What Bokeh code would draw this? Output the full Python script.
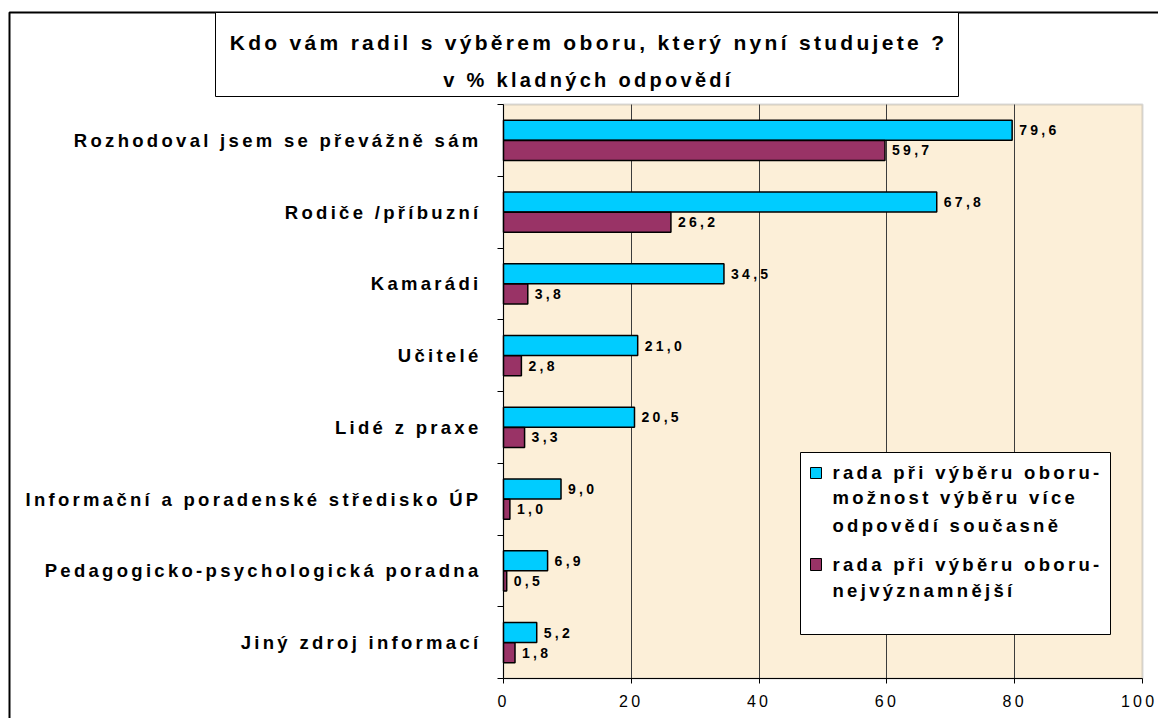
from bokeh.plotting import figure
from bokeh.models import (FixedTicker, BoxAnnotation, Label, LabelSet,
                          ColumnDataSource, Range1d, LinearAxis, Grid)
from bokeh.core.properties import value
from bokeh.embed import file_html
from bokeh.resources import INLINE

# ---------------- data ----------------
categories = [
    "Rozhodoval jsem se převážně sám",
    "Rodiče /příbuzní",
    "Kamarádi",
    "Učitelé",
    "Lidé z praxe",
    "Informační a poradenské středisko ÚP",
    "Pedagogicko-psychologická poradna",
    "Jiný zdroj informací",
]
series_multi = [79.6, 67.8, 34.5, 21.0, 20.5, 9.0, 6.9, 5.2]
series_top = [59.7, 26.2, 3.8, 2.8, 3.3, 1.0, 0.5, 1.8]
x_ticks = [0, 20, 40, 60, 80, 100]
title_line1 = "Kdo vám radil s výběrem oboru, který nyní studujete ?"
title_line2 = "v % kladných odpovědí"
legend_multi = ["rada při výběru oboru-", "možnost výběru více", "odpovědí současně"]
legend_top = ["rada při výběru oboru-", "nejvýznamnější"]

# ---------------- layout / style ----------------
W, H = 1158, 718
PL, PR, PT, PB = 503, 1142, 104, 678      # plot-area pixel box
LS = 3.3                                   # letter spacing (px)
FONT = "Liberation Sans"
BLUE = "#00CCFF"
PURPLE = "#993366"
n = len(categories)
off = 0.14
bar_h = 0.279

xmax = x_ticks[-1]
xpx = (PR - PL) / xmax
ypx = (PB - PT) / n
x_range = Range1d(-PL / xpx, (W - PL) / xpx)
y_range = Range1d((H - PT) / ypx, -PT / ypx)   # flipped: first category on top


def fmt(v):
    return f"{v:.1f}".replace(".", ",")


centers = [i + 0.5 for i in range(n)]
src_a = ColumnDataSource(dict(y=[c - off for c in centers], v=series_multi,
                              t=[fmt(v) for v in series_multi]))
src_b = ColumnDataSource(dict(y=[c + off for c in centers], v=series_top,
                              t=[fmt(v) for v in series_top]))

p = figure(width=W, height=H, x_range=x_range, y_range=y_range,
           x_axis_location=None, y_axis_location=None, title=None,
           min_border=0, output_backend="svg", toolbar_location=None)
p.styles = {"letter-spacing": f"{LS}px"}
p.background_fill_color = "white"
p.border_fill_color = "white"
p.outline_line_color = None
p.xgrid.visible = False
p.ygrid.visible = False

# plot area background + grey border
p.add_layout(BoxAnnotation(left=0, right=xmax, top=0, bottom=n,
                           fill_color="#FCEFD8", fill_alpha=1.0,
                           line_color="#808080", line_width=2, level="image"))

# vertical grid lines, limited to the plot area
grid = Grid(dimension=0, ticker=FixedTicker(ticks=x_ticks[1:-1]),
            grid_line_color="#3c3c3c", grid_line_width=1)
if "cross_bounds" in Grid.properties():
    grid.cross_bounds = (0, n)
    p.add_layout(grid)
else:
    p.segment(x0=x_ticks[1:-1], x1=x_ticks[1:-1], y0=0, y1=n,
              line_color="#3c3c3c", line_width=1, level="underlay")

# bars
p.hbar(y="y", left=0, right="v", height=bar_h, source=src_a,
       fill_color=BLUE, line_color="black", line_width=1.5)
p.hbar(y="y", left=0, right="v", height=bar_h, source=src_b,
       fill_color=PURPLE, line_color="black", line_width=1.5)

# value labels
for src in (src_a, src_b):
    p.text(x="v", y="y", text="t", source=src, x_offset=7,
           text_font=value(FONT), text_font_style="bold",
           text_font_size="14px", text_baseline="middle",
           text_align="left", text_color="black")

# x axis at bottom of plot area (tick marks only; labels drawn below)
xaxis = LinearAxis(fixed_location=n,
                   ticker=FixedTicker(ticks=[], minor_ticks=x_ticks),
                   bounds=(0, xmax))
xaxis.axis_line_color = "black"
xaxis.axis_line_width = 1
xaxis.major_tick_out = 0
xaxis.major_tick_in = 0
xaxis.minor_tick_out = 5
xaxis.minor_tick_in = 0
xaxis.minor_tick_line_color = "black"
p.add_layout(xaxis, "below")

# y axis at x=0, tick marks between categories
yaxis = LinearAxis(fixed_location=0,
                   ticker=FixedTicker(ticks=[], minor_ticks=list(range(n + 1))),
                   bounds=(0, n))
yaxis.axis_line_color = "black"
yaxis.axis_line_width = 1
yaxis.major_tick_out = 0
yaxis.major_tick_in = 0
yaxis.minor_tick_out = 6
yaxis.minor_tick_in = 0
yaxis.minor_tick_line_color = "black"
p.add_layout(yaxis, "left")

# category labels (right aligned next to the y axis)
cat_src = ColumnDataSource(dict(x=[0] * n, y=centers, text=categories,
                                xo=[-(22 + len(c) * LS) for c in categories]))
p.add_layout(LabelSet(x="x", y="y", text="text", x_offset="xo", source=cat_src,
                      text_font=value(FONT), text_font_style="bold",
                      text_font_size="18.5px", text_align="right",
                      text_baseline="middle", text_color="black"))

# x tick labels (centred; kept inside the page at the right edge)
XT_FS = 16
xt_text = [str(t) for t in x_ticks]
xt_off = []
for t, s in zip(x_ticks, xt_text):
    glyph_w = len(s) * 0.556 * XT_FS
    xo = -len(s) * LS / 2
    right_end = PL + t * xpx + xo + glyph_w / 2 + len(s) * LS
    if right_end > W - 1:
        xo -= right_end - (W - 1)
    xt_off.append(xo)
xt_src = ColumnDataSource(dict(x=x_ticks, y=[n] * len(x_ticks), text=xt_text,
                               xo=xt_off))
p.add_layout(LabelSet(x="x", y="y", text="text", x_offset="xo", y_offset=-16,
                      source=xt_src, text_font=value(FONT),
                      text_font_size=f"{XT_FS}px",
                      text_align="center", text_baseline="top",
                      text_color="black"))


# ---------- decorations in pixel units (origin bottom-left) ----------
def box(l, t, r, b, fill=None, lc="black", lw=1):
    p.add_layout(BoxAnnotation(left=l, right=r, top=H - t, bottom=H - b,
                               left_units="screen", right_units="screen",
                               top_units="screen", bottom_units="screen",
                               fill_color=fill, fill_alpha=1.0 if fill else 0,
                               line_color=lc, line_width=lw, line_alpha=1.0))


def label(txt, cx, cy, size, align="left", baseline="middle"):
    xo = -len(txt) * LS / 2 if align == "center" else 0
    p.add_layout(Label(x=cx, y=H - cy, x_units="screen", y_units="screen",
                       x_offset=xo, text=txt, text_font=FONT,
                       text_font_style="bold", text_font_size=size,
                       text_align=align, text_baseline=baseline,
                       text_color="black"))


# outer chart border (runs off the page right/bottom)
box(9, 12, W + 20, H + 20, fill=None, lc="black", lw=2)

# title box
box(215, 12, 958, 96, fill="white")
label(title_line1, 588, 42, "21px", align="center", baseline="alphabetic")
label(title_line2, 588, 79, "20px", align="center", baseline="alphabetic")

# legend
box(800, 452, 1110, 634, fill="white")
box(810, 467, 821, 478, fill=BLUE)
box(810, 558, 821, 570, fill=PURPLE)
for txt, cy in zip(legend_multi, [472, 497, 525]):
    label(txt, 832, cy, "18.5px")
for txt, cy in zip(legend_top, [564, 590]):
    label(txt, 832, cy, "18.5px")

open("out.html", "w").write(file_html(p, INLINE))
